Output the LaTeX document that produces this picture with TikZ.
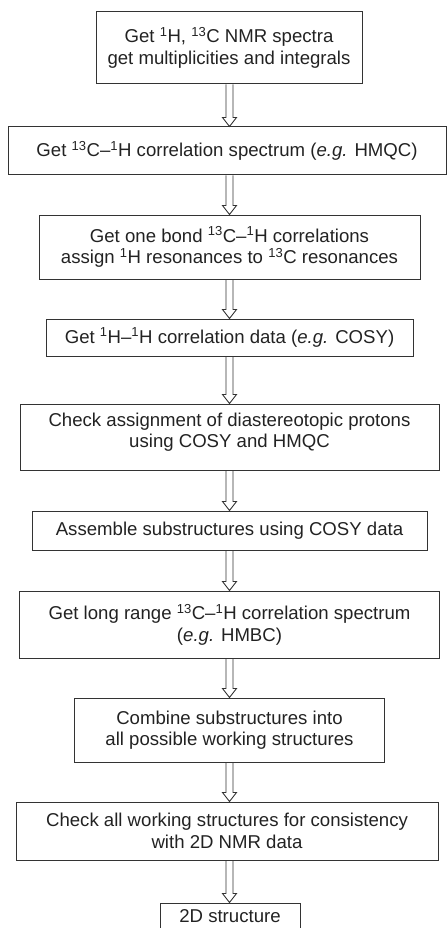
\documentclass[tikz,border=0pt]{standalone}
\usepackage{fontspec}
\setmainfont{Liberation Sans}
\usetikzlibrary{calc}
\definecolor{ink}{HTML}{222222}
\definecolor{edge}{HTML}{333333}
\newcommand\ssup[1]{\textsuperscript{#1}}
\begin{document}
\begin{tikzpicture}[x=1pt,y=-1pt,
  box/.style={draw=edge,line width=1pt,align=center,text=ink,inner sep=0pt,
    font=\fontsize{18.6}{21.5}\selectfont},
  fat/.style={draw=edge,line width=0.9pt,to path={
    let \p1=(\tikztostart),\p2=(\tikztotarget) in
    (\x1-3.5pt,\y1) -- (\x1-3.5pt,\y2+9pt) -- (\x1-7pt,\y2+9pt) -- (\x2,\y2)
    -- (\x1+7pt,\y2+9pt) -- (\x1+3.5pt,\y2+9pt) -- (\x1+3.5pt,\y1)}}]
\useasboundingbox (0,0) rectangle (447,928);
\coordinate (ax) at (229.5,0);
\node[box,minimum width=266,minimum height=72] (b1) at (229,48)
  {Get \ssup{1}H, \ssup{13}C NMR spectra\\get multiplicities and integrals};
\node[box,minimum width=438,minimum height=48] (b2) at (227,151)
  {Get \ssup{13}C--\ssup{1}H correlation spectrum (\textit{e.g.} HMQC)};
\node[box,minimum width=381,minimum height=64] (b3) at (229.5,247)
  {Get one bond \ssup{13}C--\ssup{1}H correlations\\assign \ssup{1}H resonances to \ssup{13}C resonances};
\node[box,minimum width=367,minimum height=37] (b4) at (229.5,337.5)
  {Get \ssup{1}H--\ssup{1}H correlation data (\textit{e.g.} COSY)};
\node[box,minimum width=419,minimum height=66] (b5) at (229.5,437)
  {Check assignment of diastereotopic protons\\using COSY and HMQC\\[-14pt]\strut};
\node[box,minimum width=395,minimum height=39] (b6) at (229.5,530.5)
  {Assemble substructures using COSY data};
\node[box,minimum width=420,minimum height=67] (b7) at (229.5,624.5)
  {Get long range \ssup{13}C--\ssup{1}H correlation spectrum\\(\textit{e.g.} HMBC)};
\node[box,minimum width=310,minimum height=64] (b8) at (229.5,730)
  {Combine substructures into\\all possible working structures};
\node[box,minimum width=422,minimum height=58] (b9) at (227,831)
  {Check all working structures for consistency\\with 2D NMR data};
\node[box,minimum width=140,minimum height=27] (b10) at (230,916.5)
  {2D structure};
\draw[fat] (b1.south -| ax) to (b2.north -| ax);
\draw[fat] (b2.south -| ax) to (b3.north -| ax);
\draw[fat] (b3.south -| ax) to (b4.north -| ax);
\draw[fat] (b4.south -| ax) to (b5.north -| ax);
\draw[fat] (b5.south -| ax) to (b6.north -| ax);
\draw[fat] (b6.south -| ax) to (b7.north -| ax);
\draw[fat] (b7.south -| ax) to (b8.north -| ax);
\draw[fat] (b8.south -| ax) to (b9.north -| ax);
\draw[fat] (b9.south -| ax) to (b10.north -| ax);
\end{tikzpicture}
\end{document}
